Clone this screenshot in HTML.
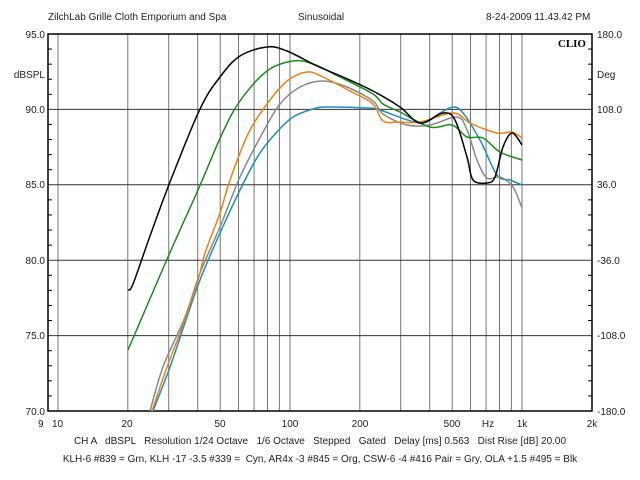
<!DOCTYPE html>
<html><head><meta charset="utf-8"><style>
html,body{margin:0;padding:0;background:#fff;}
svg{display:block;font-family:"Liberation Sans",Arial,sans-serif;}
text{white-space:pre;}
</style></head><body>
<svg id="s" width="640" height="480" viewBox="0 0 640 480" xmlns="http://www.w3.org/2000/svg">
<rect width="640" height="480" fill="#fff"/>
<g font-size="10" fill="#222">
<text x="48" y="20">ZilchLab Grille Cloth Emporium and Spa</text>
<text x="298" y="20">Sinusoidal</text>
<text x="486" y="20">8-24-2009 11.43.42 PM</text>
<text x="45" y="38" text-anchor="end">95.0</text>
<text x="45" y="78" text-anchor="end">dBSPL</text>
<text x="45" y="113" text-anchor="end">90.0</text>
<text x="45" y="188" text-anchor="end">85.0</text>
<text x="45" y="264" text-anchor="end">80.0</text>
<text x="45" y="339" text-anchor="end">75.0</text>
<text x="45" y="415" text-anchor="end">70.0</text>
<text x="597" y="38">180.0</text>
<text x="597" y="78">Deg</text>
<text x="597" y="113">108.0</text>
<text x="597" y="188">36.0</text>
<text x="597" y="264">-36.0</text>
<text x="597" y="339">-108.0</text>
<text x="597" y="415">-180.0</text>
<text x="38" y="427">9</text><text x="52" y="427">10</text>
<text x="127" y="427" text-anchor="middle">20</text>
<text x="220" y="427" text-anchor="middle">50</text>
<text x="290" y="427" text-anchor="middle">100</text>
<text x="360" y="427" text-anchor="middle">200</text>
<text x="452" y="427" text-anchor="middle">500</text>
<text x="488" y="427" text-anchor="middle">Hz</text>
<text x="522" y="427" text-anchor="middle">1k</text>
<text x="592" y="427" text-anchor="middle">2k</text>
<text x="320" y="444" text-anchor="middle" xml:space="preserve">CH A   dBSPL   Resolution 1/24 Octave   1/6 Octave   Stepped   Gated   Delay [ms] 0.563   Dist Rise [dB] 20.00</text>
<text x="320" y="462" text-anchor="middle" xml:space="preserve">KLH-6 #839 = Grn, KLH -17 -3.5 #339 =  Cyn, AR4x -3 #845 = Org, CSW-6 -4 #416 Pair = Gry, OLA +1.5 #495 = Blk</text>
</g>
<g stroke="#777" stroke-width="1">
<line x1="58" y1="34" x2="58" y2="411"/>
<line x1="127.8" y1="34" x2="127.8" y2="411"/>
<line x1="168.7" y1="34" x2="168.7" y2="411"/>
<line x1="197.7" y1="34" x2="197.7" y2="411"/>
<line x1="220.2" y1="34" x2="220.2" y2="411"/>
<line x1="238.5" y1="34" x2="238.5" y2="411"/>
<line x1="254.1" y1="34" x2="254.1" y2="411"/>
<line x1="267.5" y1="34" x2="267.5" y2="411"/>
<line x1="279.4" y1="34" x2="279.4" y2="411"/>
<line x1="290" y1="34" x2="290" y2="411"/>
<line x1="359.8" y1="34" x2="359.8" y2="411"/>
<line x1="400.7" y1="34" x2="400.7" y2="411"/>
<line x1="429.7" y1="34" x2="429.7" y2="411"/>
<line x1="452.2" y1="34" x2="452.2" y2="411"/>
<line x1="470.5" y1="34" x2="470.5" y2="411"/>
<line x1="486.1" y1="34" x2="486.1" y2="411"/>
<line x1="499.5" y1="34" x2="499.5" y2="411"/>
<line x1="511.4" y1="34" x2="511.4" y2="411"/>
<line x1="522" y1="34" x2="522" y2="411"/>
</g>
<g stroke="#333" stroke-width="1">
<line x1="48" y1="109.4" x2="592" y2="109.4"/>
<line x1="48" y1="184.8" x2="592" y2="184.8"/>
<line x1="48" y1="260.2" x2="592" y2="260.2"/>
<line x1="48" y1="335.6" x2="592" y2="335.6"/>
</g>
<g id="ticks" stroke="#000" stroke-width="1"></g>
<rect x="48" y="34" width="544" height="377" fill="none" stroke="#000" stroke-width="1.5"/>
<text x="586" y="47" font-size="11" font-weight="bold" font-family="Liberation Serif,serif" text-anchor="end">CLIO</text>
<g id="curves" fill="none" stroke-width="1.5" stroke-linejoin="round">
<polyline stroke="#1a8fc0" points="153,411 170,367 187,317 200,280 220,233 240,190 258,156 275,134 293,117 313,109 327,107 367,108 380,110 420,123 440,113 453,107 463,113 480,140 497,175 510,180 522,185"/>
<polyline stroke="#888" points="150,411 163,367 185,317 200,273 220,227 240,177 262,134 280,104 300,87 323,81 347,87 373,101 383,114 407,125 430,125 457,117 467,130 477,160 487,178 500,177 513,187 522,208"/>
<polyline stroke="#f08010" points="152,411 167,367 180,333 198,280 205,253 220,213 230,180 248,134 267,104 287,81 307,72 323,77 350,91 373,104 383,121 400,122 420,122 453,113 470,123 497,133 512,132 522,138"/>
<polyline stroke="#1a8a1a" points="128,350 168,257 198,190 222,134 240,101 267,71 293,61 313,64 340,77 373,94 383,104 400,112 430,127 452,125 467,137 483,138 500,152 522,160"/>
<polyline stroke="#000" points="128,290 133,284 150,236 170,182 200,109 220,77 240,56 267,47 287,51 317,66 343,77 373,91 400,107 420,123 443,113 455,120 467,157 473,180 487,183 495,177 503,147 512,133 522,145"/>
</g>
</svg>
<script>
(function(){
var NS="http://www.w3.org/2000/svg";
var t=document.getElementById("ticks");
for(var d=70;d<=95;d++){var y=411-(d-70)*15.08;var l=document.createElementNS(NS,"line");
l.setAttribute("x1",48);l.setAttribute("x2",d%5==0?48:52);l.setAttribute("y1",y);l.setAttribute("y2",y);t.appendChild(l);
var r=document.createElementNS(NS,"line");r.setAttribute("x1",592);r.setAttribute("x2",d%5==0?592:588);r.setAttribute("y1",y);r.setAttribute("y2",y);t.appendChild(r);}
var ps=document.querySelectorAll("#curves polyline");
for(var i=0;i<ps.length;i++){var p=ps[i];var a=p.getAttribute("points").trim().split(/\s+/).map(function(s){return s.split(",").map(Number);});
var d="M"+a[0][0]+","+a[0][1];
for(var k=0;k<a.length-1;k++){var p0=a[Math.max(k-1,0)],p1=a[k],p2=a[k+1],p3=a[Math.min(k+2,a.length-1)];
var c1x=p1[0]+(p2[0]-p0[0])/6,c1y=p1[1]+(p2[1]-p0[1])/6,c2x=p2[0]-(p3[0]-p1[0])/6,c2y=p2[1]-(p3[1]-p1[1])/6;
d+=" C"+c1x+","+c1y+" "+c2x+","+c2y+" "+p2[0]+","+p2[1];}
var path=document.createElementNS(NS,"path");path.setAttribute("d",d);path.setAttribute("stroke",p.getAttribute("stroke"));
p.parentNode.replaceChild(path,p);}
})();
</script>
</body></html>
